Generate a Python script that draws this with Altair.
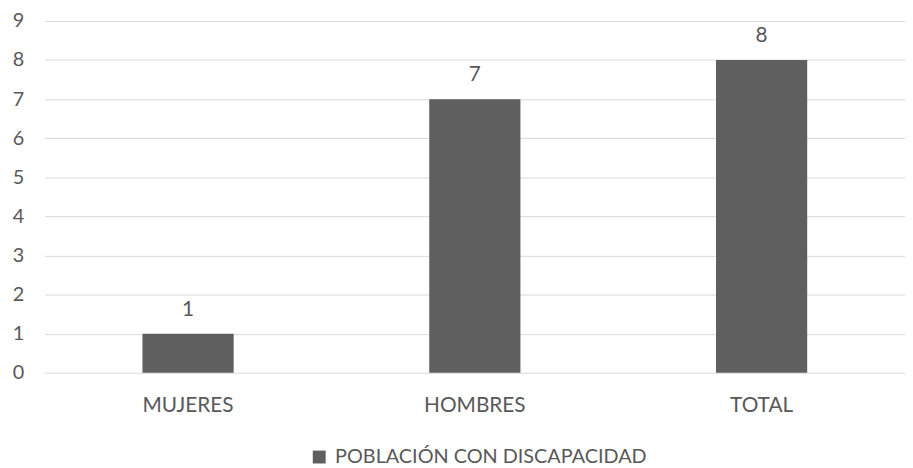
import altair as alt
import pandas as pd

categories = ["MUJERES", "HOMBRES", "TOTAL"]
values = [1, 7, 8]
series_name = "POBLACIÓN CON DISCAPACIDAD"
y_ticks = [0, 1, 2, 3, 4, 5, 6, 7, 8, 9]

df = pd.DataFrame({"cat": categories, "val": values, "serie": [series_name] * 3})

FONT = "Lato"
TXT = "#595959"
FS = 21

base = alt.Chart(df).encode(
    x=alt.X("cat:N", sort=categories, title=None,
            scale=alt.Scale(paddingInner=0.682, paddingOuter=0.341),
            axis=alt.Axis(labelAngle=0, domain=False, ticks=False, labelPadding=22,
                          labelFontSize=FS, labelColor=TXT, labelFont=FONT, grid=False)),
    y=alt.Y("val:Q", title=None,
            scale=alt.Scale(domain=[0, 9], nice=False),
            axis=alt.Axis(values=y_ticks, domain=False, ticks=False, labelPadding=21,
                          labelOverlap=False, labelFontSize=20, labelColor=TXT,
                          labelFont=FONT, gridColor="#d9d9d9", gridWidth=1)),
)

bars = base.mark_bar(size=92).encode(
    color=alt.Color("serie:N", title=None,
                    scale=alt.Scale(domain=[series_name], range=["#5f5f5f"]),
                    legend=alt.Legend(orient="none", legendX=267, legendY=430,
                                      symbolType="square", symbolSize=169,
                                      symbolStrokeWidth=0, labelFontSize=20,
                                      labelColor=TXT, labelFont=FONT, labelOffset=6,
                                      labelLimit=0)),
)

labels = base.mark_text(dy=-18, fontSize=FS, color=TXT, font=FONT, baseline="alphabetic").encode(
    text=alt.Text("val:Q"),
)

chart = alt.layer(bars, labels).properties(
    width=868, height=355,
    autosize=alt.AutoSizeParams(type="none"),
    padding={"left": 37, "top": 11, "right": 0, "bottom": 94},
).configure_view(stroke=None)

chart.save("out.html", embed_options={"renderer": "svg", "actions": False})
